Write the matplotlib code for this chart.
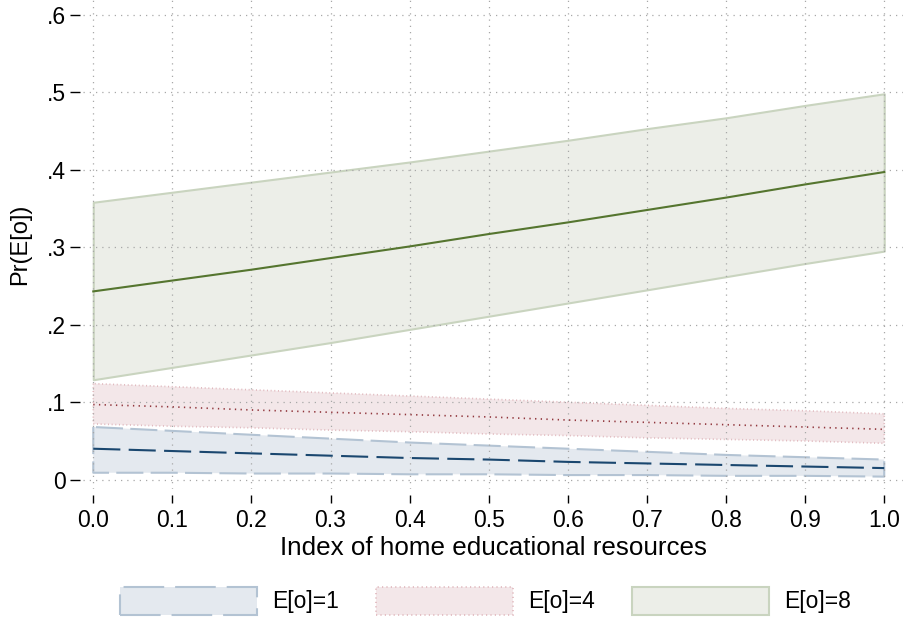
import matplotlib
matplotlib.use("Agg")
import matplotlib.pyplot as plt

plt.rcParams['font.family'] = ['Liberation Sans', 'DejaVu Sans']

# index of home educational resources
x = [0.0, 0.1, 0.2, 0.3, 0.4, 0.5, 0.6, 0.7, 0.8, 0.9, 1.0]

# predicted probabilities with confidence bounds, E[o]=1
p1 = [.040, .037, .034, .031, .028, .026, .023, .021, .019, .017, .015]
p1_hi = [.068, .063, .058, .053, .048, .044, .040, .036, .032, .029, .026]
p1_lo = [.009, .009, .008, .008, .007, .007, .006, .006, .005, .005, .004]

# E[o]=4
p4 = [.097, .094, .090, .087, .084, .081, .077, .074, .071, .068, .065]
p4_hi = [.124, .120, .116, .112, .108, .104, .100, .096, .092, .089, .085]
p4_lo = [.072, .069, .067, .064, .062, .059, .057, .054, .052, .050, .047]

# E[o]=8
p8 = [.243, .257, .271, .286, .301, .317, .332, .348, .364, .381, .397]
p8_hi = [.358, .371, .384, .397, .410, .424, .438, .453, .467, .483, .498]
p8_lo = [.129, .145, .161, .177, .194, .211, .228, .245, .262, .279, .295]

labels = ['E[o]=1', 'E[o]=4', 'E[o]=8']
xticks = [0.0, 0.1, 0.2, 0.3, 0.4, 0.5, 0.6, 0.7, 0.8, 0.9, 1.0]
yticks = [0, .1, .2, .3, .4, .5, .6]
ytick_labels = ['0', '.1', '.2', '.3', '.4', '.5', '.6']

navy = '#1a476f'
maroon = '#90353b'
green = '#55752f'

fig = plt.figure(figsize=(9.04, 6.22), dpi=100)
ax = fig.add_axes([0.0918, 0.2138, 0.9082, 0.7862])

# confidence bands
ax.fill_between(x, p1_lo, p1_hi, facecolor='#e4e9ef', edgecolor='#b3c3d3',
                linewidth=1.5, linestyle=(0, (13, 3.5)), label=labels[0])
ax.fill_between(x, p4_lo, p4_hi, facecolor='#f3e7e9', edgecolor='#e0b8bd',
                linewidth=1.2, linestyle=(0, (0.6, 1.6)), label=labels[1])
ax.fill_between(x, p8_lo, p8_hi, facecolor='#eceee8', edgecolor='#c9d4bf',
                linewidth=1.5, linestyle='-', label=labels[2])

# predicted lines
ax.plot(x, p1, color=navy, lw=1.5, linestyle=(0, (13, 4)))
ax.plot(x, p4, color=maroon, lw=1.2, linestyle=(0, (0.8, 2.6)))
ax.plot(x, p8, color=green, lw=1.5)

ax.set_xlim(-0.013, 1.025)
ax.set_ylim(-0.012, 0.619)
ax.set_xticks(xticks)
ax.set_xticklabels([f'{t:.1f}' for t in xticks])
ax.set_yticks(yticks)
ax.set_yticklabels(ytick_labels)

ax.set_axisbelow('line')
ax.grid(True, color='#a8a8a8', linestyle=(0, (1, 4)), linewidth=0.9)

for side in ['top', 'right']:
    ax.spines[side].set_visible(False)
ax.spines['bottom'].set_position(('outward', 4.5))
ax.spines['left'].set_position(('outward', 2.2))
ax.spines['bottom'].set_visible(False)
ax.spines['left'].set_visible(False)

ax.tick_params(axis='x', length=6, width=1, pad=4, labelsize=16.5)
ax.tick_params(axis='y', length=7.2, width=1, pad=3, labelsize=16.5)

ax.set_xlabel('Index of home educational resources', fontsize=18.7, labelpad=3)
ax.set_ylabel('Pr(E[o])', fontsize=17, labelpad=11)

fig.legend(loc='center', bbox_to_anchor=(0.537, 0.034), ncol=3, frameon=False,
           fontsize=16.5, handlelength=6.0, handleheight=1.55,
           handletextpad=0.65, columnspacing=1.6)

fig.savefig('out.png', dpi=100)
